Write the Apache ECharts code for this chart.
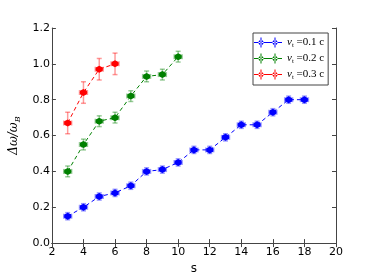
<!DOCTYPE html>
<html><head><meta charset="utf-8">
<script src="https://cdn.jsdelivr.net/npm/echarts@6/dist/echarts.min.js"></script>
<style>html,body{margin:0;padding:0;background:#fff}#c{width:374px;height:280px}</style>
</head><body><div id="c"></div>
<script>
// Data
var sBlue = [3,4,5,6,7,8,9,10,11,12,13,14,15,16,17,18];
var yBlue = [0.15,0.20,0.26,0.28,0.32,0.40,0.41,0.45,0.52,0.52,0.59,0.66,0.66,0.73,0.80,0.80];
var eBlue = [0.02,0.02,0.02,0.02,0.02,0.02,0.02,0.02,0.02,0.02,0.02,0.02,0.02,0.02,0.02,0.02];
var sGreen = [3,4,5,6,7,8,9,10];
var yGreen = [0.40,0.55,0.68,0.70,0.82,0.93,0.94,1.04];
var eGreen = [0.03,0.03,0.03,0.03,0.03,0.03,0.03,0.03];
var sRed = [3,4,5,6];
var yRed = [0.67,0.84,0.97,1.00];
var eRed = [0.06,0.06,0.06,0.06];
var xErr = 0.25;
var seriesNames = ['0.1','0.2','0.3'];
var seriesColors = ['#0000ff','#008000','#ff0000'];
var xTicks = [2,4,6,8,10,12,14,16,18,20];
var yTicks = [0.0,0.2,0.4,0.6,0.8,1.0,1.2];

var chart = echarts.init(document.getElementById('c'));
function pts(xs, ys, es){ return xs.map(function(x,i){return [x, ys[i], es[i], xErr];}); }
var sets = [pts(sBlue,yBlue,eBlue), pts(sGreen,yGreen,eGreen), pts(sRed,yRed,eRed)];

function errItem(color){
  return function(params, api){
    var x = api.value(0), y = api.value(1), ye = api.value(2), xe = api.value(3);
    var top = api.coord([x, y+ye]), bot = api.coord([x, y-ye]);
    var lft = api.coord([x-xe, y]), rgt = api.coord([x+xe, y]);
    var st = {stroke: color, lineWidth: 1.5, opacity: 0.4};
    var c = 2.5;
    return {type:'group', children:[
      {type:'line', shape:{x1:top[0],y1:top[1],x2:bot[0],y2:bot[1]}, style:st},
      {type:'line', shape:{x1:top[0]-c,y1:top[1],x2:top[0]+c,y2:top[1]}, style:st},
      {type:'line', shape:{x1:bot[0]-c,y1:bot[1],x2:bot[0]+c,y2:bot[1]}, style:st},
      {type:'line', shape:{x1:lft[0],y1:lft[1],x2:rgt[0],y2:rgt[1]}, style:st},
      {type:'line', shape:{x1:lft[0],y1:lft[1]-c,x2:lft[0],y2:lft[1]+c}, style:st},
      {type:'line', shape:{x1:rgt[0],y1:rgt[1]-c,x2:rgt[0],y2:rgt[1]+c}, style:st}
    ]};
  };
}
var hex = 'path://M0,-1 L0.866,-0.5 L0.866,0.5 L0,1 L-0.866,0.5 L-0.866,-0.5 Z';
var legIcon = 'path://M0 4.5H28V5.5H0Z M6.5 0H7.5V10H6.5Z M20.5 0H21.5V10H20.5Z M4.5 5a2.5 2.5 0 1 0 5 0a2.5 2.5 0 1 0 -5 0Z M18.5 5a2.5 2.5 0 1 0 5 0a2.5 2.5 0 1 0 -5 0Z';

var series = [];
sets.forEach(function(d, k){
  series.push({type:'custom', renderItem: errItem(seriesColors[k]), data: d, z: 2, silent:true, encode:{x:0,y:1}});
  series.push({type:'line', name: seriesNames[k], data: d.map(function(p){return [p[0],p[1]];}),
    symbol: hex, symbolSize: 7, showSymbol: true,
    itemStyle:{color: seriesColors[k]},
    lineStyle:{color: seriesColors[k], width: 1, type:[4,3]}, z: 3});
});

var frame = {color:'#444', width:1};
var axisLbl = {color:'#000', fontSize:11, fontFamily:'DejaVu Sans'};
chart.setOption({
  animation:false,
  grid:{left:48, right:38, top:28, bottom:36, show:false},
  legend:{
    data: seriesNames.map(function(n){return {name:n, icon: legIcon};}),
    orient:'vertical', left:253, top:33, itemWidth:28, itemHeight:10, itemGap:4,
    padding:[4,4,4,1], borderColor:'#444', borderWidth:1, backgroundColor:'#fff',
    formatter: function(n){ return '{v|v}{s|t}{n| =' + n + ' c}'; },
    textStyle:{rich:{
      v:{fontFamily:'Liberation Serif', fontStyle:'italic', fontSize:11, color:'#000'},
      s:{fontFamily:'Liberation Serif', fontSize:7, color:'#000', verticalAlign:'bottom', padding:[6,0,0,0]},
      n:{fontFamily:'Liberation Serif', fontSize:11, color:'#000'}
    }}
  },
  xAxis:[{
    type:'value', min:xTicks[0], max:xTicks[xTicks.length-1], interval:2,
    name:'s', nameLocation:'middle', nameGap:18, nameTextStyle:{color:'#000', fontSize:12, fontFamily:'DejaVu Sans'},
    axisLine:{show:true, lineStyle:frame},
    axisTick:{show:true, inside:true, length:4, lineStyle:frame},
    axisLabel:Object.assign({margin:4}, axisLbl), splitLine:{show:false}
  },{
    type:'value', position:'top', min:xTicks[0], max:xTicks[xTicks.length-1], interval:2,
    axisLine:{show:true, lineStyle:frame},
    axisTick:{show:true, inside:true, length:4, lineStyle:frame},
    axisLabel:{show:false}, splitLine:{show:false}
  }],
  yAxis:[{
    type:'value', min:yTicks[0], max:yTicks[yTicks.length-1], interval:0.2,
    name:'{a|Δω/ω}{b|B}', nameLocation:'middle', nameGap:28, nameRotate:90,
    nameTextStyle:{rich:{
      a:{fontFamily:'DejaVu Serif', fontStyle:'italic', fontSize:12, color:'#000'},
      b:{fontFamily:'DejaVu Serif', fontStyle:'italic', fontSize:8, color:'#000', padding:[7,0,0,0]}
    }},
    axisLine:{show:true, lineStyle:frame},
    axisTick:{show:true, inside:true, length:4, lineStyle:frame},
    axisLabel:Object.assign({margin:2, formatter:function(v){return v.toFixed(1);}}, axisLbl),
    splitLine:{show:false}
  },{
    type:'value', position:'right', min:yTicks[0], max:yTicks[yTicks.length-1], interval:0.2,
    axisLine:{show:true, lineStyle:frame},
    axisTick:{show:true, inside:true, length:4, lineStyle:frame},
    axisLabel:{show:false}, splitLine:{show:false}
  }],
  series: series
});
</script></body></html>
